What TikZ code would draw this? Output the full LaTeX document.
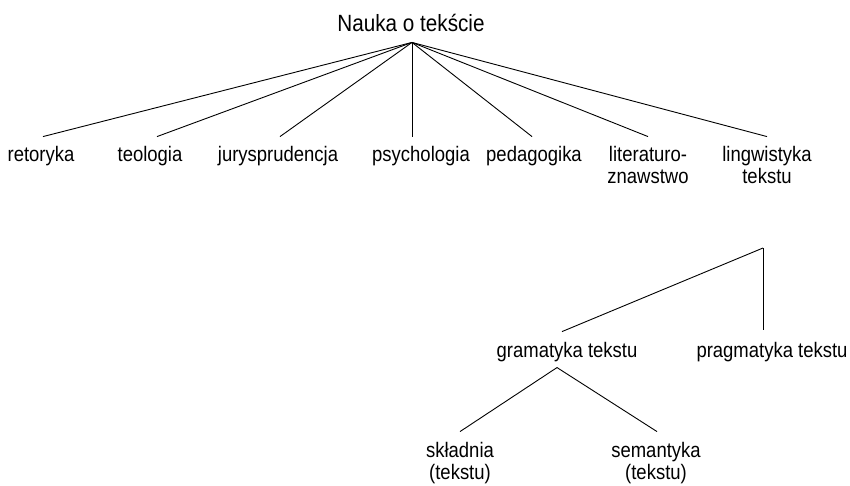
\documentclass[tikz,border=0pt]{standalone}
\usepackage{fontspec}
\setmainfont[FakeStretch=0.88]{Liberation Sans}
\usepackage{tikz}

\begin{document}
\begin{tikzpicture}[x=1pt, y=-1pt,
	lab/.style = {anchor=base, inner sep=0pt, align=center, font=\fontsize{21}{22}\selectfont},
	edge/.style = {line width=0.9pt}]
	\useasboundingbox (0,0) rectangle (850,486);
	% root
	\node [lab, font=\fontsize{23.5}{25}\selectfont] (nauka) at (411,32) {Nauka o tekście};
	\coordinate (top) at ([xshift=1pt, yshift=-10pt]nauka.south);
	% first level (two-line labels sit on their last line)
	\node [lab] (ret) at (41,162) {retoryka};
	\node [lab] (teo) at (150,162) {teologia};
	\node [lab] (jur) at (278,162) {jurysprudencja};
	\node [lab] (psy) at (421,162) {psychologia};
	\node [lab] (ped) at (534,162) {pedagogika};
	\node [lab] (lit) at (648,184) {literaturo-\\znawstwo};
	\node [lab] (ling) at (767,184) {lingwistyka\\tekstu};
	\foreach \n/\dx in {ret/2, teo/7, jur/2, psy/-9, ped/-2, lit/0, ling/0}{
		\draw [edge] (top) -- ([xshift=\dx pt, yshift=10pt]\n.north);
	}
	% lingwistyka tekstu
	\coordinate (lt) at (763,248);
	\node [lab] (gram) at (567,357) {gramatyka tekstu};
	\node [lab] (prag) at (772,357) {pragmatyka tekstu};
	\draw [edge] (lt) -- ([xshift=-5pt, yshift=10pt]gram.north);
	\draw [edge] (lt) -- ([xshift=-9pt, yshift=12pt]prag.north);
	% gramatyka tekstu
	\coordinate (gt) at ([xshift=-10pt, yshift=-6pt]gram.south);
	\node [lab] (skl) at (460,479) {składnia\\(tekstu)};
	\node [lab] (sem) at (656,479) {semantyka\\(tekstu)};
	\draw [edge] (gt) -- ([yshift=10pt]skl.north);
	\draw [edge] (gt) -- ([xshift=1pt, yshift=10pt]sem.north);
\end{tikzpicture}
\end{document}
